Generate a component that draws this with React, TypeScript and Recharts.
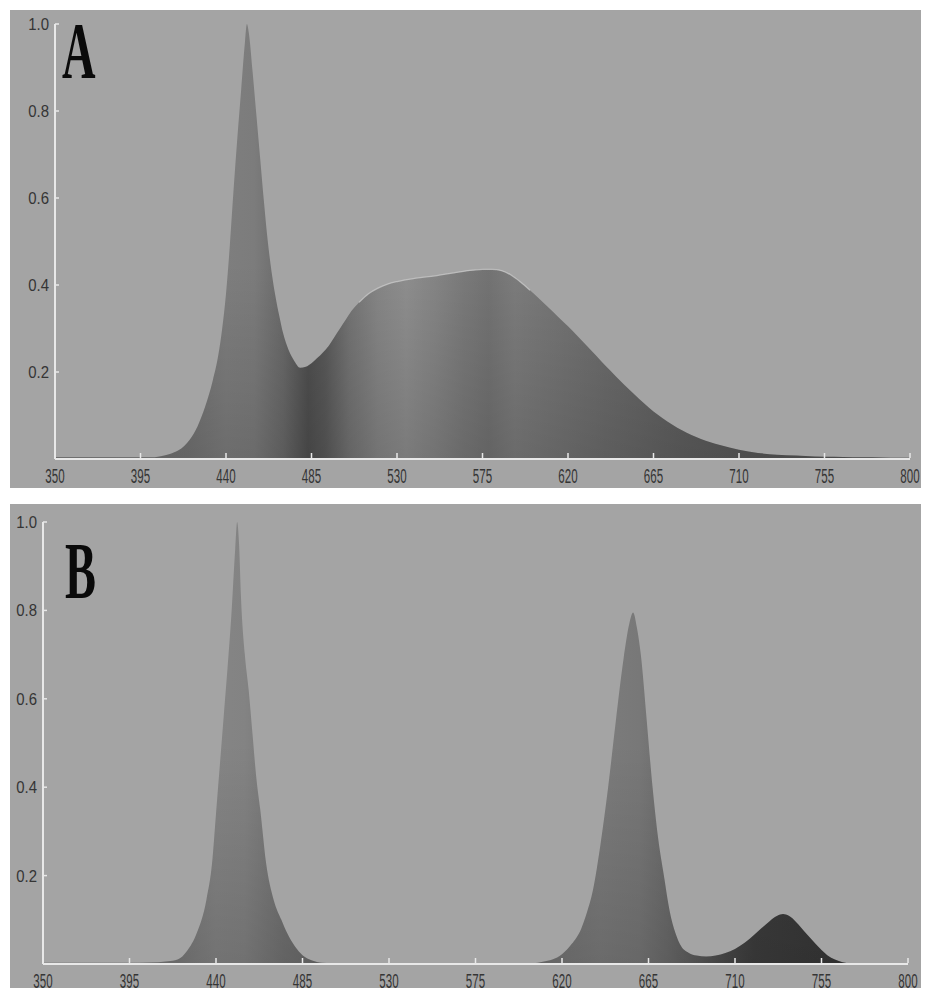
import React from 'react';
import { ComposedChart, Area, Line, XAxis, YAxis } from 'recharts';

const xTicks = [350, 395, 440, 485, 530, 575, 620, 665, 710, 755, 800];
const yTicks = [0.2, 0.4, 0.6, 0.8, 1.0];

// Panel A: white LED spectrum
const wavelengthA = [350, 360, 370, 380, 390, 400, 405, 410, 415, 418, 421, 425, 429, 433, 436, 438, 440, 442, 444, 446, 448, 450, 451, 452, 454, 456, 458, 460, 462, 464, 466, 468, 470, 473, 476, 479, 482, 485, 488, 491, 494, 497, 500, 503, 506, 510, 515, 520, 525, 530, 540, 550, 560, 570, 575, 580, 585, 590, 595, 600, 605, 610, 615, 620, 625, 630, 635, 640, 645, 650, 655, 660, 665, 670, 675, 680, 690, 700, 710, 720, 730, 740, 750, 760, 770, 780, 790, 800];
const intensityA = [0.004, 0.004, 0.004, 0.004, 0.004, 0.004, 0.006, 0.011, 0.02, 0.03, 0.045, 0.075, 0.12, 0.18, 0.24, 0.3, 0.38, 0.49, 0.62, 0.74, 0.85, 0.96, 1.0, 0.98, 0.89, 0.79, 0.69, 0.59, 0.5, 0.43, 0.375, 0.33, 0.29, 0.25, 0.225, 0.21, 0.212, 0.22, 0.232, 0.245, 0.26, 0.28, 0.3, 0.32, 0.34, 0.36, 0.38, 0.393, 0.402, 0.408, 0.416, 0.421, 0.428, 0.434, 0.436, 0.436, 0.433, 0.423, 0.407, 0.388, 0.368, 0.347, 0.326, 0.305, 0.283, 0.26, 0.237, 0.213, 0.191, 0.169, 0.148, 0.128, 0.109, 0.093, 0.079, 0.066, 0.046, 0.032, 0.021, 0.014, 0.01, 0.008, 0.006, 0.005, 0.004, 0.004, 0.003, 0.003];

// Panel B: blue + red + far-red LED spectrum
const wavelengthB = [350, 400, 410, 415, 420, 425, 430, 435, 438, 440, 442, 444, 446, 448, 450, 451, 452, 453, 455, 457, 459, 461, 463, 466, 470, 474, 477, 481, 485, 490, 495, 500, 600, 605, 610, 615, 620, 625, 630, 633, 636, 640, 644, 648, 652, 655, 657, 659, 661, 664, 667, 670, 673, 676, 679, 682, 686, 690, 695, 700, 705, 710, 715, 720, 724, 728, 732, 735, 738, 742, 746, 750, 754, 758, 762, 766, 770, 800];
const intensityB = [0.003, 0.003, 0.004, 0.006, 0.01, 0.03, 0.07, 0.145, 0.23, 0.34, 0.45, 0.56, 0.67, 0.79, 0.94, 1.0, 0.95, 0.83, 0.7, 0.62, 0.52, 0.42, 0.35, 0.23, 0.145, 0.1, 0.07, 0.04, 0.02, 0.008, 0.003, 0.002, 0.002, 0.002, 0.005, 0.01, 0.022, 0.045, 0.08, 0.117, 0.165, 0.27, 0.4, 0.55, 0.69, 0.77, 0.795, 0.76, 0.7, 0.555, 0.405, 0.285, 0.2, 0.12, 0.07, 0.04, 0.025, 0.019, 0.017, 0.019, 0.025, 0.034, 0.048, 0.066, 0.082, 0.097, 0.109, 0.113, 0.109, 0.094, 0.074, 0.055, 0.036, 0.02, 0.01, 0.004, 0.002, 0.002];

const dataA = wavelengthA.map((w, i) => ({
  wl: w,
  v: intensityA[i],
  hl: w >= 508 && w <= 600 ? intensityA[i] : null,
}));
const dataB = wavelengthB.map((w, i) => ({ wl: w, v: intensityB[i] }));

const BG = '#a4a4a4';
const AXIS = '#e8e8e8';
const LABEL = '#353535';

const XTick = (props: any) => {
  const { x, y, payload } = props;
  return (
    <g>
      <line x1={x} x2={x} y1={y - 1} y2={y - 6} stroke={AXIS} strokeWidth={1.5} />
      <text
        transform={`translate(${x},${y + 24}) scale(0.55,1)`}
        textAnchor="middle"
        fontSize={21}
        fill={LABEL}
        fontFamily="'Liberation Sans', Arial, sans-serif"
      >
        {payload.value}
      </text>
    </g>
  );
};

const YTick = (props: any) => {
  const { x, y, payload } = props;
  return (
    <g>
      <line x1={x} x2={x + 4} y1={y} y2={y} stroke={AXIS} strokeWidth={1.5} />
      <text
        transform={`translate(${x - 6},${y + 6}) scale(0.88,1)`}
        textAnchor="end"
        fontSize={17}
        fill={LABEL}
        fontFamily="'Liberation Sans', Arial, sans-serif"
      >
        {Number(payload.value).toFixed(1)}
      </text>
    </g>
  );
};

const letterStyle = (left: number, top: number): React.CSSProperties => ({
  position: 'absolute',
  left,
  top,
  fontFamily: "'Liberation Serif', 'Times New Roman', serif",
  fontWeight: 'bold',
  fontSize: 80,
  lineHeight: '80px',
  color: '#0a0a0a',
  transform: 'scaleX(0.58)',
  transformOrigin: 'left top',
});

export default function App() {
  return (
    <div style={{ position: 'absolute', left: 0, top: 0, width: 933, height: 1000, background: '#fff', overflow: 'hidden' }}>
      <div style={{ position: 'absolute', left: 10, top: 10, width: 911, height: 478, background: BG }} />
      <div style={{ position: 'absolute', left: 10, top: 504, width: 911, height: 484, background: BG }} />

      <div style={{ position: 'absolute', left: 10, top: 10 }}>
        <ComposedChart width={911} height={490} data={dataA} margin={{ top: 14, right: 11, bottom: 0, left: 0 }} style={{ overflow: 'visible' }}>
          <defs>
            <linearGradient id="gradA" x1="0" y1="0" x2="1" y2="0">
              <stop offset="0" stopColor="#6e6e6e" />
              <stop offset="0.156" stopColor="#747474" />
              <stop offset="0.2" stopColor="#7e7e7e" />
              <stop offset="0.233" stopColor="#7c7c7c" />
              <stop offset="0.267" stopColor="#6a6a6a" />
              <stop offset="0.296" stopColor="#505050" />
              <stop offset="0.316" stopColor="#5a5a5a" />
              <stop offset="0.344" stopColor="#747474" />
              <stop offset="0.378" stopColor="#868686" />
              <stop offset="0.411" stopColor="#8e8e8e" />
              <stop offset="0.444" stopColor="#858585" />
              <stop offset="0.478" stopColor="#7a7a7a" />
              <stop offset="0.507" stopColor="#737373" />
              <stop offset="0.538" stopColor="#7c7c7c" />
              <stop offset="0.578" stopColor="#767676" />
              <stop offset="0.644" stopColor="#6c6c6c" />
              <stop offset="0.733" stopColor="#606060" />
              <stop offset="0.822" stopColor="#585858" />
              <stop offset="1" stopColor="#555555" />
            </linearGradient>
            <linearGradient id="shadeA" x1="0" y1="0" x2="0" y2="1">
              <stop offset="0" stopColor="#000" stopOpacity={0} />
              <stop offset="0.55" stopColor="#000" stopOpacity={0} />
              <stop offset="1" stopColor="#000" stopOpacity={0.14} />
            </linearGradient>
          </defs>
          <XAxis
            dataKey="wl"
            type="number"
            domain={[350, 800]}
            ticks={xTicks}
            interval={0}
            height={41}
            tickSize={0}
            tickMargin={0}
            tickLine={false}
            axisLine={{ stroke: AXIS, strokeWidth: 2 }}
            tick={<XTick />}
          />
          <YAxis
            type="number"
            domain={[0, 1]}
            ticks={yTicks}
            interval={0}
            width={45}
            tickSize={0}
            tickMargin={0}
            tickLine={false}
            axisLine={{ stroke: AXIS, strokeWidth: 2 }}
            tick={<YTick />}
          />
          <Area type="monotone" dataKey="v" stroke="none" fill="url(#gradA)" fillOpacity={1} isAnimationActive={false} />
          <Area type="monotone" dataKey="v" stroke="none" fill="url(#shadeA)" fillOpacity={1} isAnimationActive={false} />
          <Line type="monotone" dataKey="hl" stroke="#cfcfcf" strokeOpacity={0.7} strokeWidth={1.3} dot={false} connectNulls={false} isAnimationActive={false} />
        </ComposedChart>
      </div>

      <div style={{ position: 'absolute', left: 10, top: 504 }}>
        <ComposedChart width={911} height={500} data={dataB} margin={{ top: 18, right: 13, bottom: 0, left: 0 }} style={{ overflow: 'visible' }}>
          <defs>
            <linearGradient id="gradB" x1="0" y1="0" x2="1" y2="0">
              <stop offset="0" stopColor="#7a7a7a" />
              <stop offset="0.156" stopColor="#7a7a7a" />
              <stop offset="0.2" stopColor="#858585" />
              <stop offset="0.233" stopColor="#838383" />
              <stop offset="0.278" stopColor="#737373" />
              <stop offset="0.322" stopColor="#6a6a6a" />
              <stop offset="0.556" stopColor="#727272" />
              <stop offset="0.644" stopColor="#7c7c7c" />
              <stop offset="0.689" stopColor="#787878" />
              <stop offset="0.722" stopColor="#6c6c6c" />
              <stop offset="0.756" stopColor="#5c5c5c" />
              <stop offset="0.789" stopColor="#4a4a4a" />
              <stop offset="0.822" stopColor="#3e3e3e" />
              <stop offset="0.911" stopColor="#383838" />
              <stop offset="1" stopColor="#383838" />
            </linearGradient>
            <linearGradient id="shadeB" x1="0" y1="0" x2="0" y2="1">
              <stop offset="0" stopColor="#000" stopOpacity={0} />
              <stop offset="0.5" stopColor="#000" stopOpacity={0} />
              <stop offset="1" stopColor="#000" stopOpacity={0.14} />
            </linearGradient>
          </defs>
          <XAxis
            dataKey="wl"
            type="number"
            domain={[350, 800]}
            ticks={xTicks}
            interval={0}
            height={40}
            tickSize={0}
            tickMargin={0}
            tickLine={false}
            axisLine={{ stroke: AXIS, strokeWidth: 2 }}
            tick={<XTick />}
          />
          <YAxis
            type="number"
            domain={[0, 1]}
            ticks={yTicks}
            interval={0}
            width={33}
            tickSize={0}
            tickMargin={0}
            tickLine={false}
            axisLine={{ stroke: AXIS, strokeWidth: 2 }}
            tick={<YTick />}
          />
          <Area type="monotone" dataKey="v" stroke="none" fill="url(#gradB)" fillOpacity={1} isAnimationActive={false} />
          <Area type="monotone" dataKey="v" stroke="none" fill="url(#shadeB)" fillOpacity={1} isAnimationActive={false} />
        </ComposedChart>
      </div>

      <div style={letterStyle(62, 11)}>A</div>
      <div style={letterStyle(65, 531)}>B</div>
    </div>
  );
}
